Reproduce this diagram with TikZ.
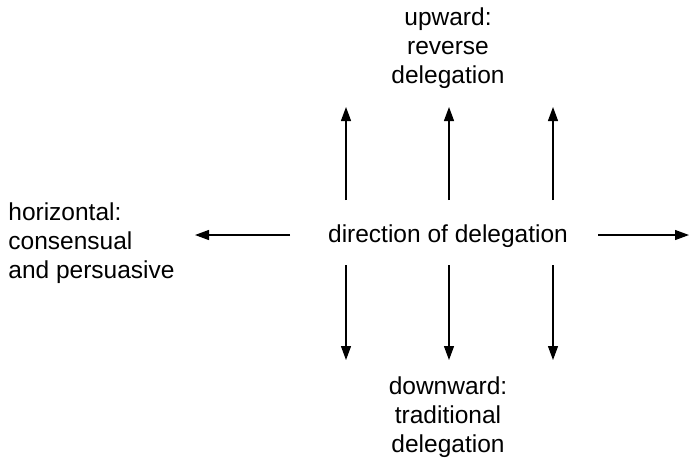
\documentclass[tikz,border=0pt]{standalone}
\usepackage{fontspec}
\setmainfont{Liberation Sans}
\usetikzlibrary{arrows.meta,positioning}
\tikzstyle{delegation}=[-{Triangle[length=7pt,width=5pt]},line width=0.6pt]
\tikzstyle{lbl}=[align=center,font=\fontsize{12.25}{14.4}\selectfont,inner sep=0pt]

\begin{document}
\begin{tikzpicture}[x=0.5pt,y=-0.5pt]
	\useasboundingbox (0,0) rectangle (690,463);
	% labels
	\node[lbl] (dir) at (448,236) {direction of delegation};
	\node[lbl] (up) at (448,48) {upward:\\reverse\\delegation};
	\node[lbl] (down) at (448,417) {downward:\\traditional\\delegation};
	\node[lbl,align=left,anchor=west] (horiz) at (8,243) {horizontal:\\consensual\\and persuasive};
	% vertical arrows
	\foreach \x/\n in {346/1,449/2,553/3} {
		\coordinate (upfrom\n) at (\x,200);
		\coordinate (upto\n) at (\x,107);
		\coordinate (downfrom\n) at (\x,265);
		\coordinate (downto\n) at (\x,360);
		\draw[delegation] (upfrom\n) -- (upto\n);
		\draw[delegation] (downfrom\n) -- (downto\n);
	}
	% horizontal arrows
	\coordinate (leftfrom) at (290,235);
	\coordinate (leftto) at (195,235);
	\coordinate (rightfrom) at (598,235);
	\coordinate (rightto) at (689,235);
	\draw[delegation] (leftfrom) -- (leftto);
	\draw[delegation] (rightfrom) -- (rightto);
\end{tikzpicture}
\end{document}
